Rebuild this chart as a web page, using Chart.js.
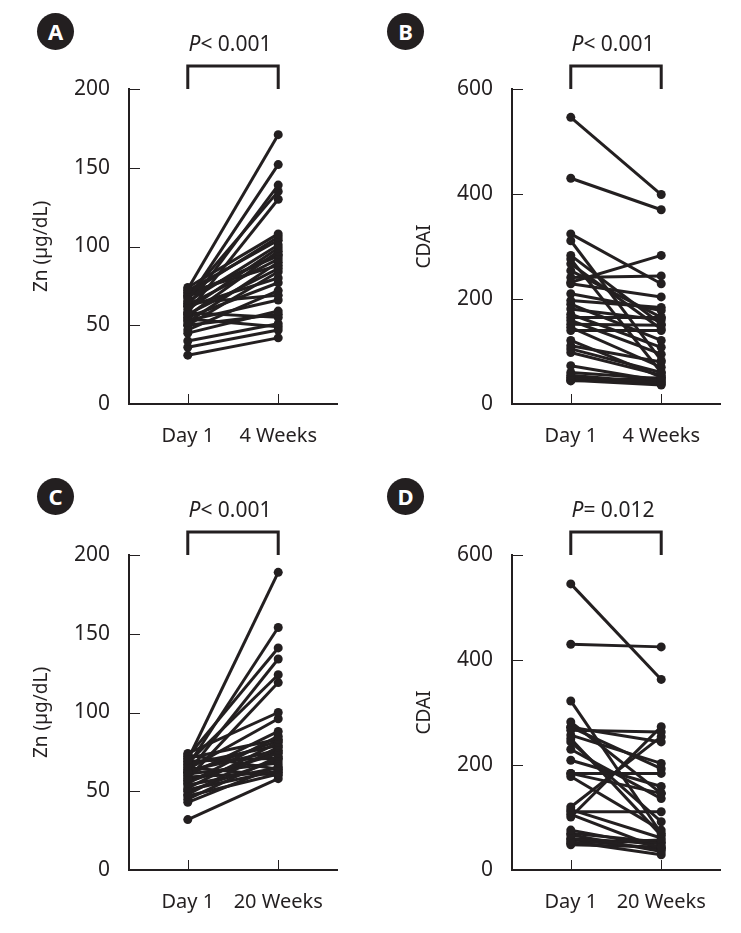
<!DOCTYPE html>
<html>
<head>
<meta charset="utf-8">
<script src="https://cdn.jsdelivr.net/npm/chart.js@4/dist/chart.umd.min.js"></script>
<style>
    body   { margin: 0; background: #fff; font-family: 'Noto Sans', sans-serif; color: #231f20; }
    .panel { position: absolute; width: 358px; height: 466px; }
    .badge { position: absolute; width: 37px; height: 37px; border-radius: 50%; background: #231f20;
             color: #fff; font: bold 22px 'Noto Sans', sans-serif; text-align: center; line-height: 37px; }
    .pval  { position: absolute; left: 130px; width: 200px; top: 30px; text-align: center;
             font-size: 21px; line-height: 26px; }
</style>
</head>
<body>

<div class="badge" style="left:37px;top:13px">A</div>
<div class="badge" style="left:387px;top:13px">B</div>
<div class="badge" style="left:37px;top:478px">C</div>
<div class="badge" style="left:387px;top:478px">D</div>

<div class="panel" style="left:0;top:0"><canvas id="ch-a" width="358" height="466"></canvas><div class="pval"><i>P</i>&lt; 0.001</div></div>
<div class="panel" style="left:383px;top:0"><canvas id="ch-b" width="358" height="466"></canvas><div class="pval"><i>P</i>&lt; 0.001</div></div>
<div class="panel" style="left:0;top:466px"><canvas id="ch-c" width="358" height="466"></canvas><div class="pval"><i>P</i>&lt; 0.001</div></div>
<div class="panel" style="left:383px;top:466px"><canvas id="ch-d" width="358" height="466"></canvas><div class="pval"><i>P</i>= 0.012</div></div>

<script>
// ── Datos (pares por paciente) ───────────────────────────────────────────
const INK = '#231f20';

const X_LABELS_4W  = ['Day 1', '4 Weeks'];
const X_LABELS_20W = ['Day 1', '20 Weeks'];

// A: Zn, Day 1 -> 4 Weeks
const znDay1A  = [73, 66, 62, 68, 58, 74, 70, 72, 65, 60, 56, 68, 63, 52, 71, 57, 50, 62, 55, 47, 64, 53, 45, 50, 58, 40, 36, 31, 54, 69];
const znWeek4  = [171, 152, 139, 135, 130, 108, 106, 104, 101, 99, 97, 95, 92, 90, 88, 86, 84, 80, 77, 72, 69, 66, 59, 57, 55, 51, 47, 42, 49, 94];

// B: CDAI, Day 1 -> 4 Weeks
const cdaiDay1B = [546, 430, 324, 311, 283, 276, 267, 254, 241, 232, 229, 210, 197, 190, 181, 171, 165, 159, 152, 146, 140, 121, 111, 105, 98, 73, 60, 55, 51, 48, 44, 45];
const cdaiWeek4 = [399, 370, 229, 83, 152, 60, 143, 165, 244, 283, 204, 178, 184, 121, 160, 108, 165, 95, 150, 70, 140, 51, 80, 60, 55, 44, 48, 40, 38, 44, 50, 36];

// C: Zn, Day 1 -> 20 Weeks
const znDay1C  = [70, 66, 72, 62, 68, 58, 74, 64, 60, 55, 71, 52, 67, 48, 63, 57, 45, 69, 50, 61, 43, 54, 73, 59, 47, 65, 32, 56, 62, 51];
const znWeek20 = [189, 154, 141, 134, 124, 119, 100, 96, 88, 85, 83, 81, 79, 78, 76, 74, 72, 71, 70, 68, 66, 65, 64, 62, 61, 60, 58, 75, 82, 63];

// D: CDAI, Day 1 -> 20 Weeks
const cdaiDay1D  = [545, 430, 322, 282, 272, 266, 257, 244, 230, 209, 184, 178, 120, 111, 101, 76, 67, 54, 51, 115, 106, 272, 250, 184, 60, 58, 70, 48];
const cdaiWeek20 = [363, 425, 70, 146, 244, 263, 203, 92, 136, 159, 184, 76, 254, 111, 273, 44, 35, 29, 57, 61, 40, 193, 66, 146, 50, 40, 53, 44];

// ── Marcas hacia dentro + corchete del valor P ───────────────────────────
const innerTicks = {
    id: 'innerTicks',
    afterDraw(chart) {
        const { ctx, chartArea: a, scales: { x, y } } = chart;
        ctx.save();
        ctx.strokeStyle = INK;
        ctx.lineWidth = 1;
        ctx.beginPath();
        y.ticks.forEach(t => {
            if (t.value === y.min) return;
            const p = Math.round(y.getPixelForValue(t.value)) + 0.5;
            ctx.moveTo(a.left, p); ctx.lineTo(a.left + 11, p);
        });
        x.ticks.forEach(t => {
            const p = Math.round(x.getPixelForValue(t.value)) + 0.5;
            ctx.moveTo(p, a.bottom); ctx.lineTo(p, a.bottom - 10);
        });
        ctx.stroke();

        const x0 = x.getPixelForValue(0), x1 = x.getPixelForValue(1);
        ctx.lineWidth = 3;
        ctx.beginPath();
        ctx.moveTo(x0, a.top); ctx.lineTo(x0, a.top - 23);
        ctx.lineTo(x1, a.top - 23); ctx.lineTo(x1, a.top);
        ctx.stroke();
        ctx.restore();
    },
};

// ── Grafico de pares ─────────────────────────────────────────────────────
function buildPaired(id, before, after, xLabels, yTitle, yMax, yStep) {
    const ctx = document.getElementById(id).getContext('2d');
    return new Chart(ctx, {
        type: 'line',
        data: {
            datasets: before.map((v, i) => ({
                data: [{ x: 0, y: v }, { x: 1, y: after[i] }],
                borderColor: INK, backgroundColor: INK,
                borderWidth: 3, pointRadius: 4.5, pointBorderWidth: 0,
            })),
        },
        options: {
            responsive: false, animation: false,
            layout: { padding: { top: 89, right: 21, left: 0, bottom: 0 } },
            plugins: { legend: { display: false }, tooltip: { enabled: false } },
            scales: {
                x: {
                    type: 'linear', min: -0.65, max: 1.65,
                    afterBuildTicks: ax => { ax.ticks = [{ value: 0 }, { value: 1 }]; },
                    afterFit: s => { s.height = 62; },
                    grid: { display: false, drawTicks: false },
                    border: { color: INK, width: 2 },
                    ticks: { callback: v => xLabels[v], color: INK, padding: 20, font: { family: 'Noto Sans', size: 20 } },
                },
                y: {
                    min: 0, max: yMax,
                    afterFit: s => { s.width = 129; },
                    grid: { display: false, drawTicks: false },
                    border: { color: INK, width: 2 },
                    ticks: { stepSize: yStep, color: INK, padding: 19, font: { family: 'Noto Sans', size: 21 } },
                    title: { display: true, text: yTitle, color: INK, padding: { top: 30 }, font: { family: 'Noto Sans', size: 19 } },
                },
            },
        },
        plugins: [innerTicks],
    });
}

buildPaired('ch-a', znDay1A,   znWeek4,    X_LABELS_4W,  'Zn (µg/dL)', 200, 50);
buildPaired('ch-b', cdaiDay1B, cdaiWeek4,  X_LABELS_4W,  'CDAI',       600, 200);
buildPaired('ch-c', znDay1C,   znWeek20,   X_LABELS_20W, 'Zn (µg/dL)', 200, 50);
buildPaired('ch-d', cdaiDay1D, cdaiWeek20, X_LABELS_20W, 'CDAI',       600, 200);
</script>
</body>
</html>
